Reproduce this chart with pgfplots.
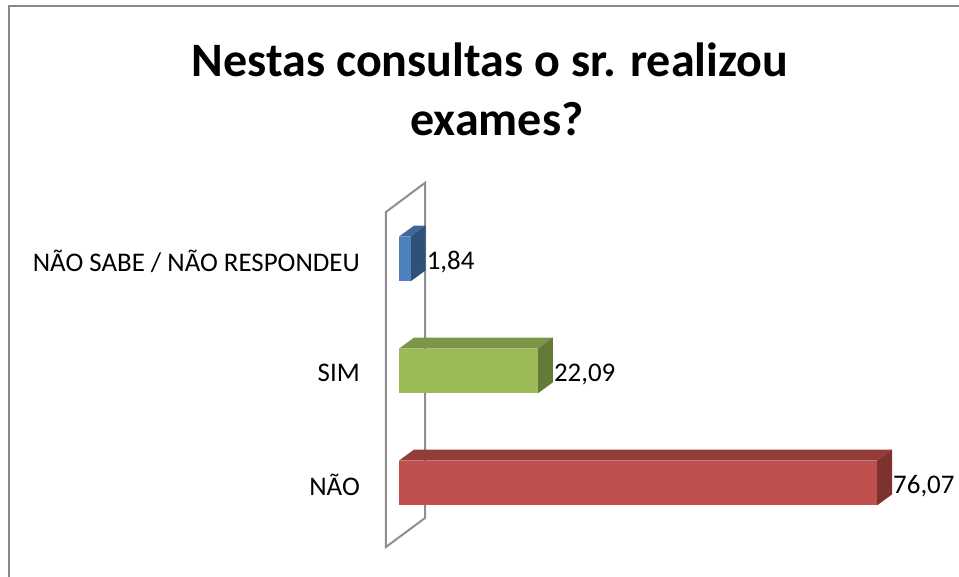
\documentclass[border=0pt]{standalone}
\usepackage{pgfplots}
\pgfplotsset{compat=1.18}
\usepackage{fontspec}
\setmainfont{Carlito}
\definecolor{bluefront}{HTML}{4F81BD}
\definecolor{bluetop}{HTML}{3E679A}
\definecolor{blueside}{HTML}{2E5079}
\definecolor{greenfront}{HTML}{9BBB59}
\definecolor{greentop}{HTML}{7B9647}
\definecolor{greenside}{HTML}{637B36}
\definecolor{redfront}{HTML}{C0504D}
\definecolor{redtop}{HTML}{943C3A}
\definecolor{redside}{HTML}{7D3230}
\definecolor{framegray}{HTML}{888888}
\definecolor{wallgray}{HTML}{8E8E8E}
\begin{document}
\begin{tikzpicture}
\useasboundingbox (0,0) rectangle (959bp,577bp);
\draw[framegray, line width=2bp] (9bp,0) -- (9bp,571bp) -- (960bp,571bp);
\node[font=\bfseries\fontsize{48.2}{58}\selectfont, anchor=base] at (490bp,500bp) {Nestas consultas o sr. realizou};
\node[font=\bfseries\fontsize{48.2}{58}\selectfont, anchor=base] at (497bp,441bp) {exames?};
\begin{axis}[
  at={(399bp,94bp)}, anchor=origin,
  x=6.284bp, y=112bp,
  xmin=-2.07, xmax=90, ymin=-0.6, ymax=2.7,
  clip=false,
  axis line style={draw=none},
  tick style={draw=none},
  xtick=\empty,
  ytick={0,1,2},
  yticklabels={NÃO, SIM, NÃO SABE / NÃO RESPONDEU},
  yticklabel style={font=\fontsize{27}{32}\selectfont, inner sep=0pt, anchor=east, xshift=-26bp, yshift=-2bp},
  /pgf/number format/assume math mode=true,
  /pgf/number format/use comma,
  /pgf/number format/fixed,
  /pgf/number format/fixed zerofill,
  /pgf/number format/precision=2,
  nodes near coords style={font=\fontsize{27}{32}\selectfont, anchor=west, inner sep=1bp, xshift=15bp, yshift=-3bp},
]
% wall
\addplot[wallgray, line width=2bp, mark=none] coordinates {(-2.07,-0.571) (-2.07,2.42) (4.14,2.68) (4.14,-0.3125)} -- cycle;
% blue
\addplot[fill=bluetop, draw=none, mark=none] coordinates {(0,2.2) (1.84,2.2) (4.227,2.298) (2.387,2.298)} -- cycle;
\addplot[fill=blueside, draw=none, mark=none] coordinates {(1.84,1.8) (4.227,1.898) (4.227,2.298) (1.84,2.2)} -- cycle;
\addplot[xbar, bar shift=0pt, bar width=44.8bp, fill=bluefront, draw=none, nodes near coords] coordinates {(1.84,2)};
% green
\addplot[fill=greentop, draw=none, mark=none] coordinates {(0,1.2) (22.09,1.2) (24.477,1.298) (2.387,1.298)} -- cycle;
\addplot[fill=greenside, draw=none, mark=none] coordinates {(22.09,0.8) (24.477,0.898) (24.477,1.298) (22.09,1.2)} -- cycle;
\addplot[xbar, bar shift=0pt, bar width=44.8bp, fill=greenfront, draw=none, nodes near coords] coordinates {(22.09,1)};
% red
\addplot[fill=redtop, draw=none, mark=none] coordinates {(0,0.2) (76.07,0.2) (78.457,0.298) (2.387,0.298)} -- cycle;
\addplot[fill=redside, draw=none, mark=none] coordinates {(76.07,-0.2) (78.457,-0.102) (78.457,0.298) (76.07,0.2)} -- cycle;
\addplot[xbar, bar shift=0pt, bar width=44.8bp, fill=redfront, draw=none, nodes near coords] coordinates {(76.07,0)};
\end{axis}
\end{tikzpicture}
\end{document}
